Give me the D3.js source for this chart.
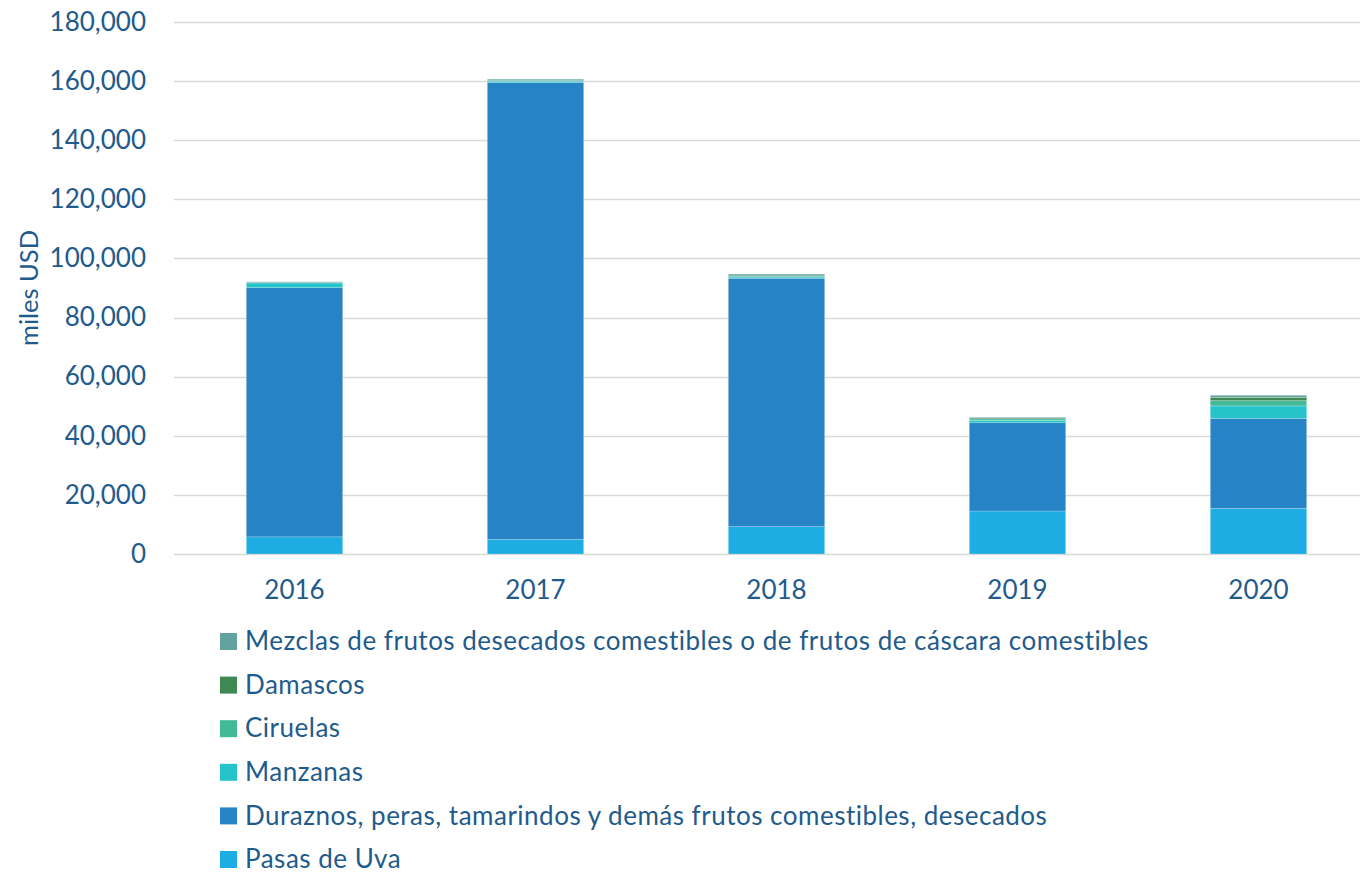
<!DOCTYPE html>
<html>
<head>
<meta charset="utf-8">
<script src="https://cdn.jsdelivr.net/npm/d3@7"></script>
<style>
  html, body { margin: 0; padding: 0; background: #fff; }
  svg { display: block; font-family: Lato, "Open Sans", sans-serif; }
</style>
</head>
<body>
<div id="chart"></div>
<script>
// Valeurs (miles USD)
const years = ["2016", "2017", "2018", "2019", "2020"];
const seriesNames = [
  "Pasas de Uva",
  "Duraznos, peras, tamarindos y demás frutos comestibles, desecados",
  "Manzanas",
  "Ciruelas",
  "Damascos",
  "Mezclas de frutos desecados comestibles o de frutos de cáscara comestibles"
];
const pasas     = [5800, 5000, 9250, 14550, 15450];
const duraznos  = [84300, 154500, 84050, 29850, 30450];
const manzanas  = [1600, 500, 400, 800, 4200];
const ciruelas  = [100, 100, 300, 500, 1800];
const damascos  = [50, 50, 100, 300, 1100];
const mezclas   = [250, 500, 600, 250, 700];
const seriesColors = ["#1eade3", "#2683c6", "#27c3cb", "#42ba97", "#3e8853", "#62a39f"];
const yTicks = [0, 20000, 40000, 60000, 80000, 100000, 120000, 140000, 160000, 180000];

const W = 1360, H = 875;
const textColor = "#1f5b8c";

const svg = d3.select("#chart").append("svg")
    .attr("width", W).attr("height", H);

const values = [pasas, duraznos, manzanas, ciruelas, damascos, mezclas];
const rows = years.map((y, i) => {
    const r = {year: y};
    seriesNames.forEach((s, k) => r[s] = values[k][i]);
    return r;
});

const x = d3.scaleBand().domain(years).range([174, 1379]).paddingInner(0.6).paddingOuter(0.3);
const y = d3.scaleLinear().domain([0, 180000]).range([554, 22]);
const color = d3.scaleOrdinal().domain(seriesNames).range(seriesColors);

// Grille
svg.append("g")
    .selectAll("line")
    .data(yTicks)
    .join("line")
    .attr("x1", 174).attr("x2", 1379)
    .attr("y1", d => Math.round(y(d)) + 0.5).attr("y2", d => Math.round(y(d)) + 0.5)
    .attr("stroke", "#d9d9d9").attr("stroke-width", 1.5);

// Axe Y
const yAxis = svg.append("g")
    .attr("transform", "translate(146,0)")
    .call(d3.axisLeft(y).tickValues(yTicks).tickSize(0).tickPadding(0).tickFormat(d3.format(",")));
yAxis.select(".domain").remove();
yAxis.selectAll("text")
    .style("font-size", "26px")
    .style("fill", textColor)
    .style("font-family", "Lato, 'Open Sans', sans-serif");

svg.append("text")
    .attr("transform", `translate(38,${y(90000)}) rotate(-90)`)
    .attr("text-anchor", "middle")
    .style("font-size", "25.5px")
    .style("fill", textColor)
    .text("miles USD");

// Barres empilées
const stack = d3.stack().keys(seriesNames)(rows);
svg.append("g")
    .selectAll("g")
    .data(stack)
    .join("g")
    .attr("fill", d => color(d.key))
    .selectAll("rect")
    .data(d => d)
    .join("rect")
    .attr("x", d => x(d.data.year))
    .attr("y", d => y(d[1]))
    .attr("width", x.bandwidth())
    .attr("height", d => y(d[0]) - y(d[1]))
    .attr("stroke", "#ffffff")
    .attr("stroke-opacity", 0.35)
    .attr("stroke-width", 0.6);

// Axe X
const xAxis = svg.append("g")
    .attr("transform", "translate(0,554)")
    .call(d3.axisBottom(x).tickSize(0).tickPadding(27));
xAxis.select(".domain").remove();
xAxis.selectAll("text")
    .style("font-size", "26px")
    .style("fill", textColor)
    .style("font-family", "Lato, 'Open Sans', sans-serif");

// Légende (ordre inverse)
const legendOrder = seriesNames.slice().reverse();
const legend = svg.append("g").attr("transform", "translate(220,641)");
legendOrder.forEach((name, i) => {
    const g = legend.append("g").attr("transform", `translate(0,${i * 43.6})`);
    g.append("rect").attr("x", 0).attr("y", -8).attr("width", 17).attr("height", 17).attr("fill", color(name));
    g.append("text").attr("x", 25).attr("y", 0).attr("dy", "0.35em")
        .style("font-size", "26px")
        .style("letter-spacing", "0.5px")
        .style("fill", textColor)
        .text(name);
});
</script>
</body>
</html>
